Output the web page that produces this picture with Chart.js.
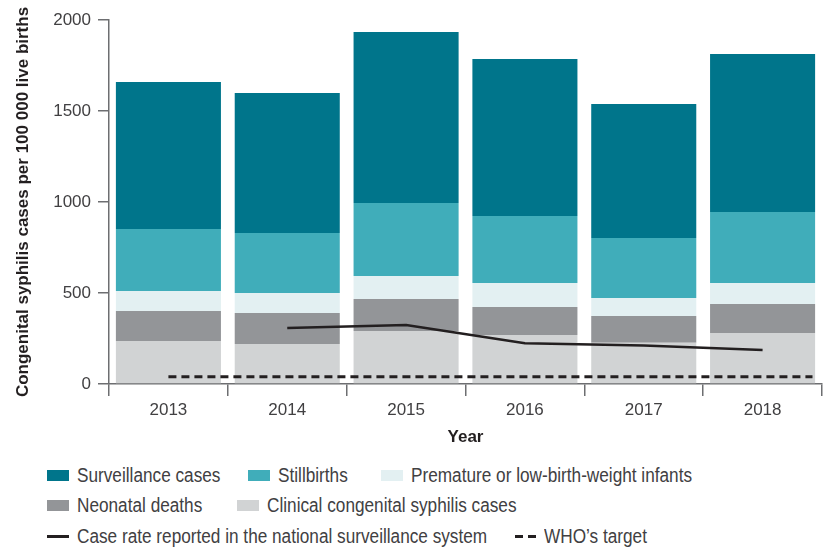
<!DOCTYPE html>
<html>
<head>
<meta charset="utf-8">
<script src="https://cdn.jsdelivr.net/npm/chart.js@4"></script>
<style>
  html, body { margin: 0; padding: 0; background: #fff; }
  body { width: 825px; height: 549px; overflow: hidden; position: relative;
         font-family: "Liberation Sans", Arial, sans-serif; }
  #wrap { position: absolute; left: 0; top: 0; width: 825px; height: 460px; }
  .lg { position: absolute; display: flex; align-items: center; white-space: nowrap;
        height: 24px; line-height: 24px; font-size: 20px; color: #414042; }
  .lg .tx { display: inline-block; transform: scaleX(0.86); transform-origin: 0 50%; }
  .sw { width: 22px; height: 11px; margin-right: 8px; flex: none; }
  .ln { width: 22px; height: 3px; margin-right: 8px; flex: none; background: #231f20; }
  .dl { width: 21px; height: 3px; margin-right: 8px; flex: none;
        background: repeating-linear-gradient(90deg, #231f20 0 8px, transparent 8px 13px); }
</style>
</head>
<body>
<div id="wrap"><canvas id="c" width="825" height="460"></canvas></div>
<div id="legend"></div>
<script>
// ---- data ----
const years = ['2013', '2014', '2015', '2016', '2017', '2018'];
const clinical     = [236, 220, 291, 269, 227, 280];
const neonatal     = [165, 170, 176, 154, 147, 160];
const premature    = [110, 110, 126, 132,  99, 115];
const stillbirths  = [341, 330, 402, 368, 329, 390];
const surveillance = [807, 769, 939, 863, 736, 868];
const caseRate     = [null, 308, 324, 224, 212, 187];
const whoTarget    = 40;
const whoSpan      = [0, 5.42];   // category positions (2013 centre .. right end of 2018 bar)
const yTicks       = [0, 500, 1000, 1500, 2000];

const labels = {
  surveillance: 'Surveillance cases',
  stillbirths: 'Stillbirths',
  premature: 'Premature or low-birth-weight infants',
  neonatal: 'Neonatal deaths',
  clinical: 'Clinical congenital syphilis cases',
  rate: 'Case rate reported in the national surveillance system',
  who: 'WHO\u2019s target'
};
const colors = {
  surveillance: '#00758b',
  stillbirths: '#40adba',
  premature: '#e3f0f2',
  neonatal: '#939598',
  clinical: '#d1d3d4',
  line: '#231f20'
};

const tickFont = { family: '"Liberation Sans", Arial, sans-serif', size: 17 };
const titleFont = { family: '"Liberation Sans", Arial, sans-serif', size: 17, weight: 'bold' };
const axisColor = '#6d6e71';
const textColor = '#414042';

const whoPoints = whoSpan.map(x => ({ x: x, y: whoTarget }));

new Chart(document.getElementById('c'), {
  type: 'bar',
  data: {
    labels: years,
    datasets: [
      { type: 'line', label: labels.rate, data: caseRate, xAxisID: 'x', stack: 'rate',
        borderColor: colors.line, borderWidth: 2.5, pointRadius: 0, fill: false, tension: 0 },
      { type: 'line', label: labels.who, data: whoPoints, xAxisID: 'x2', stack: 'who',
        borderColor: colors.line, borderWidth: 3, borderDash: [8, 5], pointRadius: 0, fill: false },
      { label: labels.clinical, data: clinical, backgroundColor: colors.clinical, stack: 's' },
      { label: labels.neonatal, data: neonatal, backgroundColor: colors.neonatal, stack: 's' },
      { label: labels.premature, data: premature, backgroundColor: colors.premature, stack: 's' },
      { label: labels.stillbirths, data: stillbirths, backgroundColor: colors.stillbirths, stack: 's' },
      { label: labels.surveillance, data: surveillance, backgroundColor: colors.surveillance, stack: 's' }
    ]
  },
  options: {
    responsive: false,
    animation: false,
    events: [],
    layout: { padding: { left: 0, right: 3, top: 20, bottom: 0 } },
    plugins: { legend: { display: false }, tooltip: { enabled: false } },
    datasets: { bar: { grouped: false, categoryPercentage: 1, barPercentage: 0.884, borderWidth: 0 } },
    scales: {
      x: {
        stacked: true,
        grid: { display: true, drawOnChartArea: false, offset: true, tickLength: 12,
                color: axisColor, lineWidth: 1.5 },
        border: { color: axisColor, width: 1.5 },
        ticks: { font: tickFont, color: textColor, padding: 4 },
        title: { display: true, text: 'Year', font: titleFont, color: '#231f20',
                 padding: { top: 0, bottom: 12 } },
        afterFit(s) { s.height = 76; }
      },
      x2: { type: 'linear', axis: 'x', position: 'bottom', display: false, offset: false,
            min: -0.5, max: 5.5 },
      y: {
        stacked: true,
        min: yTicks[0], max: yTicks[yTicks.length - 1],
        afterBuildTicks(s) { s.ticks = yTicks.map(v => ({ value: v })); },
        grid: { display: true, drawOnChartArea: false, tickLength: 11, color: axisColor, lineWidth: 1.5 },
        border: { color: axisColor, width: 1.5 },
        ticks: { font: tickFont, color: textColor, padding: 7, callback: v => String(v) },
        title: { display: true, text: 'Congenital syphilis cases per 100 000 live births',
                 font: titleFont, color: '#231f20', padding: { top: 13, bottom: 0 } },
        afterFit(s) { s.width = 109; }
      }
    }
  }
});

// ---- HTML legend ----
const legendItems = [
  { key: 'surveillance', kind: 'sw', left: 47,  top: 463 },
  { key: 'stillbirths',  kind: 'sw', left: 248, top: 463 },
  { key: 'premature',    kind: 'sw', left: 381, top: 463 },
  { key: 'neonatal',     kind: 'sw', left: 47,  top: 493 },
  { key: 'clinical',     kind: 'sw', left: 237, top: 493 },
  { key: 'rate',         kind: 'ln', left: 47,  top: 524 },
  { key: 'who',          kind: 'dl', left: 515, top: 524 }
];
const lg = document.getElementById('legend');
legendItems.forEach(it => {
  const d = document.createElement('div');
  d.className = 'lg';
  d.style.left = it.left + 'px';
  d.style.top = it.top + 'px';
  const s = document.createElement('span');
  s.className = it.kind;
  if (it.kind === 'sw') s.style.background = colors[it.key];
  const t = document.createElement('span');
  t.className = 'tx';
  t.textContent = labels[it.key];
  d.appendChild(s); d.appendChild(t);
  lg.appendChild(d);
});
</script>
</body>
</html>
